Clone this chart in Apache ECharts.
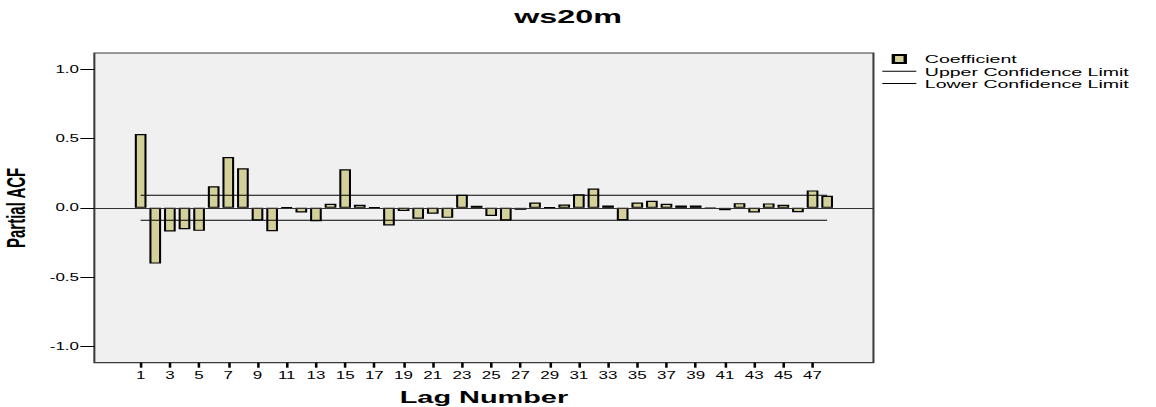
<!DOCTYPE html>
<html>
<head>
<meta charset="utf-8">
<script src="https://cdn.jsdelivr.net/npm/echarts@6/dist/echarts.min.js"></script>
<style>
    html, body { margin: 0; padding: 0; background: #fff; overflow: hidden; }
    /* the source picture is a horizontally stretched SPSS export */
    #pacfChart {
        width: 680px;
        height: 407px;
        transform: scaleX(1.7);
        transform-origin: 0 0;
    }
</style>
</head>
<body>
<div id="pacfChart"></div>
<script>
// lag numbers and partial autocorrelation coefficients
const lags = [
    1, 2, 3, 4, 5, 6, 7, 8, 9, 10, 11, 12, 13, 14, 15, 16,
    17, 18, 19, 20, 21, 22, 23, 24, 25, 26, 27, 28, 29, 30, 31, 32,
    33, 34, 35, 36, 37, 38, 39, 40, 41, 42, 43, 44, 45, 46, 47, 48
];
const pacf = [
    0.533, -0.402, -0.171, -0.154, -0.166, 0.155, 0.367, 0.285,
    -0.091, -0.168, 0.003, -0.033, -0.096, 0.029, 0.278, 0.022,
    0.003, -0.127, -0.022, -0.079, -0.043, -0.072, 0.094, 0.015,
    -0.058, -0.091, -0.014, 0.039, 0.002, 0.024, 0.099, 0.140,
    0.017, -0.089, 0.039, 0.051, 0.029, 0.017, 0.017, -0.002,
    -0.017, 0.034, -0.033, 0.032, 0.022, -0.031, 0.126, 0.087
];
// confidence limits, drawn from first to last lag
const limitLags = [1, 48];
const upperLimit = [0.09, 0.09];
const lowerLimit = [-0.09, -0.09];

// tick labels
const xTicks = [1, 3, 5, 7, 9, 11, 13, 15, 17, 19, 21, 23, 25, 27, 29, 31, 33, 35, 37, 39, 41, 43, 45, 47];
const yTicks = [-1, -0.5, 0, 0.5, 1];

const FONT = "'Liberation Sans', Arial, sans-serif";

var chart = echarts.init(document.getElementById("pacfChart"), null, { renderer: "svg" });

const option = {
    animation: false,
    backgroundColor: "#fff",
    title: {
        text: "ws20m",
        left: 302.5,
        top: 7,
        padding: 0,
        textStyle: {
            fontFamily: FONT,
            fontSize: 19,
            fontWeight: "bold",
            color: "#000"
        }
    },
    legend: {
        orient: "vertical",
        left: 519,
        top: 53,
        padding: 0,
        itemWidth: 20,
        itemHeight: 8,
        itemGap: 0.3,
        selectedMode: false,
        textStyle: {
            fontFamily: FONT,
            fontSize: 11.5,
            lineHeight: 12,
            color: "#000"
        },
        data: [
            { name: "Coefficient", icon: "path://M0,0H7V8H0Z" },
            { name: "Upper Confidence Limit", icon: "path://M0,0H20V1H0Z" },
            { name: "Lower Confidence Limit", icon: "path://M0,0H20V1H0Z" }
        ]
    },
    grid: {
        show: true,
        left: 55.5,
        right: 166.2,
        top: 53,
        bottom: 44.3,
        outerBoundsMode: "none",
        backgroundColor: "#f0f0f0",
        borderColor: "#3a3a3a",
        borderWidth: 1.2
    },
    xAxis: {
        type: "value",
        min: -2.17,
        max: 51.17,
        name: "Lag Number",
        nameLocation: "middle",
        nameGap: 26,
        nameMoveOverlap: false,
        nameTextStyle: {
            fontFamily: FONT,
            fontSize: 17,
            fontWeight: "bold",
            color: "#000"
        },
        axisLine: { show: false, onZero: false },
        splitLine: { show: false },
        axisTick: {
            show: true,
            length: 5,
            customValues: xTicks,
            lineStyle: { color: "#000", width: 1.5 }
        },
        axisLabel: {
            customValues: xTicks,
            margin: 8,
            fontFamily: FONT,
            fontSize: 10,
            color: "#000"
        }
    },
    yAxis: {
        type: "value",
        min: -1.117,
        max: 1.117,
        name: "Partial ACF",
        nameLocation: "middle",
        nameRotate: 90,
        nameGap: 38.5,
        nameMoveOverlap: false,
        nameTextStyle: {
            fontFamily: FONT,
            fontSize: 15,
            fontWeight: "bold",
            color: "#000"
        },
        axisLine: { show: false, onZero: false },
        splitLine: { show: false },
        axisTick: {
            show: true,
            length: 8.2,
            customValues: yTicks,
            lineStyle: { color: "#000", width: 1 }
        },
        axisLabel: {
            customValues: yTicks,
            margin: 9,
            fontFamily: FONT,
            fontSize: 10,
            color: "#000",
            formatter: function (v) {
                return v.toFixed(1);
            }
        }
    },
    series: [
        {
            name: "Coefficient",
            type: "bar",
            barWidth: "80%",
            data: lags.map((lag, i) => [lag, pacf[i]]),
            itemStyle: {
                color: "#d4d09a",
                borderColor: "#000",
                borderWidth: 1.2
            },
            markLine: {
                silent: true,
                symbol: ["none", "none"],
                label: { show: false },
                lineStyle: { color: "#333", width: 1.2, type: "solid" },
                data: [{ yAxis: 0 }]
            }
        },
        {
            name: "Upper Confidence Limit",
            type: "line",
            symbol: "none",
            data: limitLags.map((lag, i) => [lag, upperLimit[i]]),
            itemStyle: { color: "#000" },
            lineStyle: { color: "#000", width: 1 }
        },
        {
            name: "Lower Confidence Limit",
            type: "line",
            symbol: "none",
            data: limitLags.map((lag, i) => [lag, lowerLimit[i]]),
            itemStyle: { color: "#000" },
            lineStyle: { color: "#000", width: 1 }
        }
    ]
};

chart.setOption(option);
</script>
</body>
</html>
